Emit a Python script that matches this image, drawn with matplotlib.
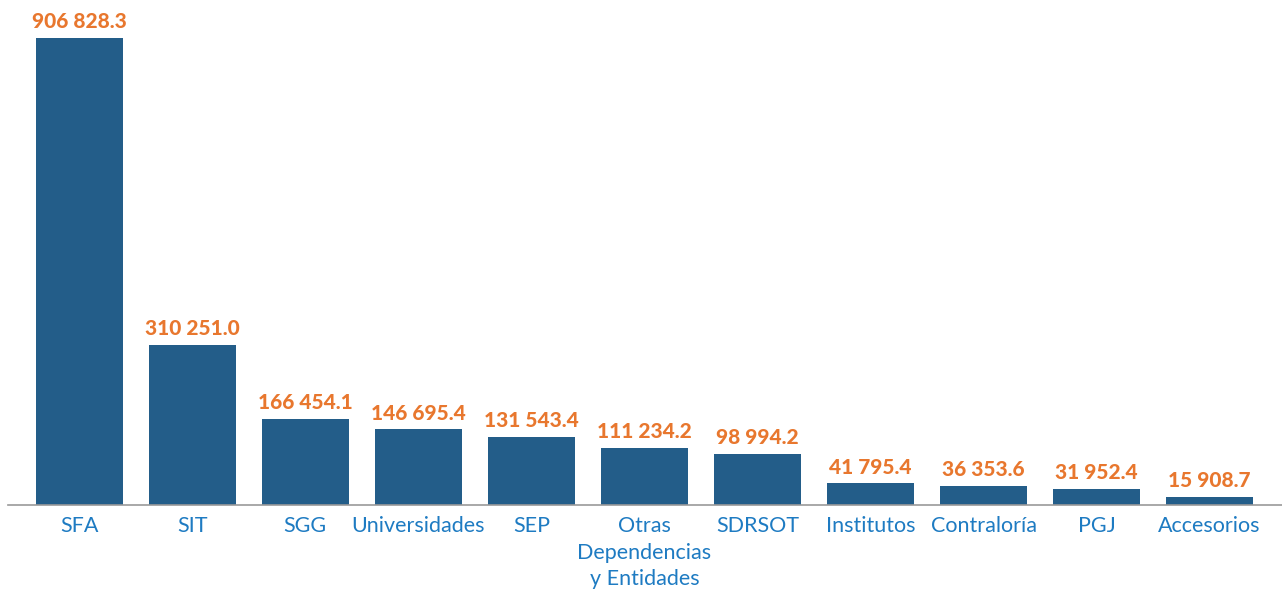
import matplotlib
matplotlib.use("Agg")
import matplotlib.pyplot as plt

categorias = ["SFA", "SIT", "SGG", "Universidades", "SEP",
              "Otras\nDependencias\ny Entidades", "SDRSOT", "Institutos",
              "Contraloría", "PGJ", "Accesorios"]
valores = [906828.3, 310251.0, 166454.1, 146695.4, 131543.4,
           111234.2, 98994.2, 41795.4, 36353.6, 31952.4, 15908.7]

cor_barra = "#235D89"
cor_valor = "#E8772E"
cor_categoria = "#1E7BC2"


def formatar(v):
    # separador de milhar com espaco
    return f"{v:,.1f}".replace(",", " ")


fig = plt.figure(figsize=(12.82, 5.9), dpi=100)
ax = fig.add_axes([8 / 1282, 85 / 590, 1 - 8 / 1282, 505 / 590])

x = range(len(categorias))
ax.bar(x, valores, width=0.77, color=cor_barra, zorder=2)

for i, v in zip(x, valores):
    ax.annotate(formatar(v), (i, v), xytext=(0, 5), textcoords="offset points",
                ha="center", va="bottom", color=cor_valor, fontsize=15,
                fontweight="black", family="Lato", zorder=3)

ax.set_xlim(-0.63, len(categorias) - 1 + 0.64)
ax.set_ylim(0, 906828.3 * 505 / 467)

ax.set_xticks(list(x))
ax.set_xticklabels(categorias, color=cor_categoria, fontsize=15.5,
                   family="Lato", linespacing=1.4)
ax.tick_params(axis="x", length=0, pad=8)
ax.set_yticks([])

for lado in ["top", "right", "left"]:
    ax.spines[lado].set_visible(False)
ax.spines["bottom"].set_color("#999999")
ax.spines["bottom"].set_linewidth(1.2)

fig.savefig("out.png", dpi=100)
